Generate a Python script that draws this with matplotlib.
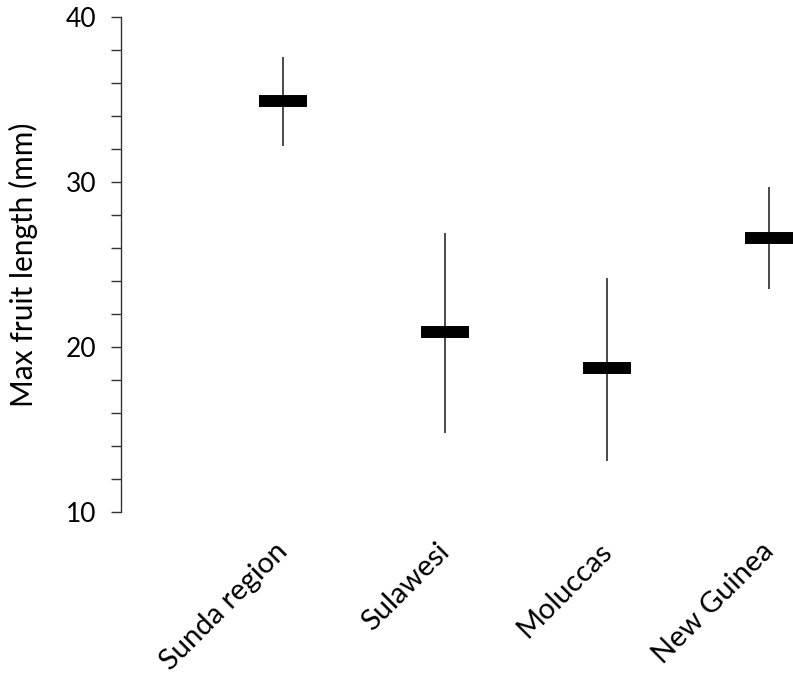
import matplotlib
matplotlib.use("Agg")
import matplotlib.pyplot as plt
from matplotlib.ticker import MultipleLocator
from matplotlib.transforms import ScaledTranslation

plt.rcParams['font.family'] = ['Lato', 'DejaVu Sans']

regions = ["Sunda region", "Sulawesi", "Moluccas", "New Guinea"]
mean_len = [34.9, 20.9, 18.7, 26.6]
low_len = [32.2, 14.8, 13.1, 23.5]
high_len = [37.6, 26.9, 24.2, 29.7]

xpos = list(range(1, len(regions) + 1))

fig = plt.figure(figsize=(7.93, 6.79), dpi=100)
ax = fig.add_axes([0.1526, 0.246, 0.8474, 0.729])

# range lines
ax.vlines(xpos, low_len, high_len, color="#4a4a4a", lw=1.4, zorder=2)
# mean bars
half = 0.151
ax.hlines(mean_len, [x - half for x in xpos], [x + half for x in xpos],
          color="black", lw=8.6, zorder=3)

ax.set_xlim(0, 4.148)
ax.set_ylim(10, 40)
ax.yaxis.set_major_locator(MultipleLocator(10))
ax.yaxis.set_minor_locator(MultipleLocator(2))
ax.tick_params(axis="y", which="both", direction="out", length=7, width=1,
               color="#333333", labelsize=19, pad=11)

ax.set_xticks(xpos)
ax.set_xticklabels(regions, rotation=45, ha="right", va="top",
                   rotation_mode="default", fontsize=21)
ax.tick_params(axis="x", length=0, pad=19)
# nudge the slanted labels a bit to the right
shift = ScaledTranslation(7 / 72, 0, fig.dpi_scale_trans)
for lab in ax.get_xticklabels():
    lab.set_transform(lab.get_transform() + shift)

for s in ["top", "right", "bottom"]:
    ax.spines[s].set_visible(False)
ax.spines["left"].set_color("#333333")
ax.spines["left"].set_linewidth(1)

ax.set_ylabel("Max fruit length (mm)", fontsize=21.5, labelpad=20)

fig.savefig("out.png", dpi=100)
